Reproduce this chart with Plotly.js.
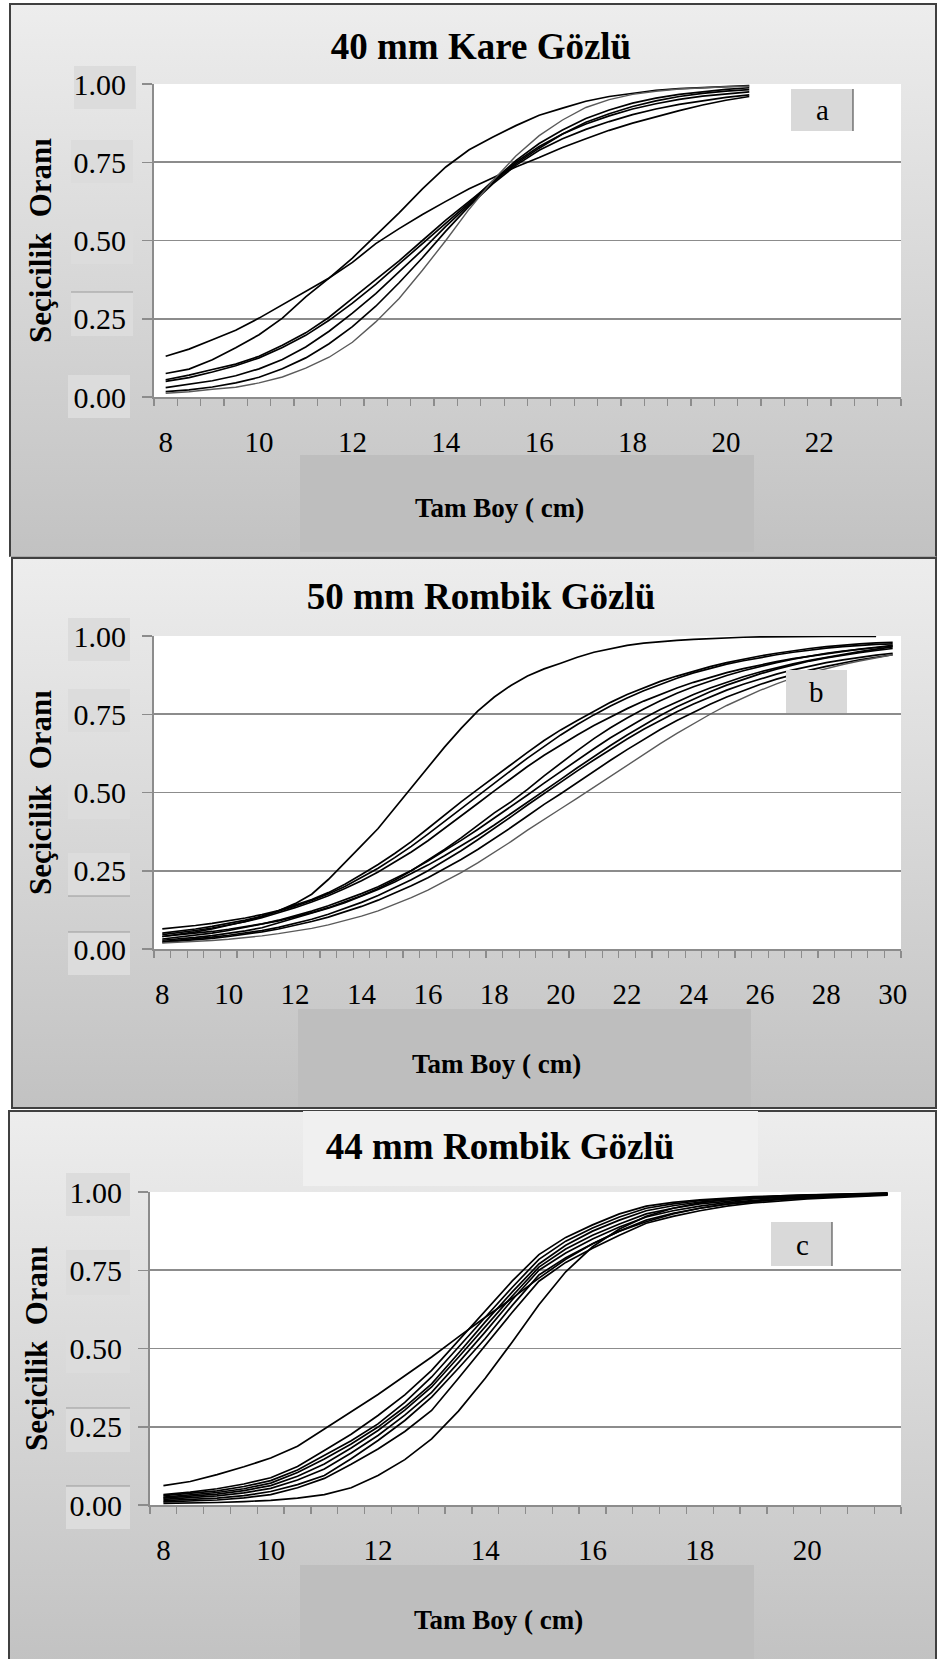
<!DOCTYPE html>
<html><head><meta charset="utf-8">
<script src="https://cdn.plot.ly/plotly-3.0.1.min.js"></script>
<style>
body{margin:0;background:#fff;width:947px;height:1659px;position:relative;overflow:hidden;}
.panel{position:absolute;box-sizing:border-box;border:2px solid #404040;background:linear-gradient(#ededed,#c2c2c2);}
.chart{position:absolute;}
</style></head><body>
<div class="panel" style="left:9px;top:3px;width:928px;height:554px;border-bottom:1px solid #a8a8a8"></div>
<div class="panel" style="left:11px;top:557px;width:926px;height:552px;"></div>
<div class="panel" style="left:8px;top:1110px;width:929px;height:553px;"></div>
<div class="chart" id="ca" style="left:9px;top:3px;"></div>
<div class="chart" id="cb" style="left:11px;top:557px;"></div>
<div class="chart" id="cc" style="left:8px;top:1110px;"></div>
<script>
// ---------------- DATA ----------------
const titleA = '40 mm Kare Gözlü';
const titleB = '50 mm Rombik Gözlü';
const titleC = '44 mm Rombik Gözlü';
const yTitle = 'Seçicilik\u00A0 Oranı';
const xTitle = 'Tam Boy ( cm)';
const yTicks = [0, 0.25, 0.5, 0.75, 1];

// Panel a: total length (cm)
const xA = [8,8.5,9,9.5,10,10.5,11,11.5,12,12.5,13,13.5,14,14.5,15,15.5,16,16.5,17,17.5,18,18.5,19,19.5,20,20.5];
const xTicksA = [8,10,12,14,16,18,20,22];
const a1 = [.130,.153,.183,.213,.252,.295,.337,.380,.430,.490,.538,.583,.625,.665,.700,.735,.765,.797,.825,.852,.875,.896,.915,.933,.948,.960];
const a2 = [.075,.089,.119,.157,.199,.252,.320,.380,.444,.515,.588,.665,.735,.790,.830,.867,.900,.923,.945,.960,.971,.980,.985,.989,.993,.995];
const a3 = [.055,.070,.088,.105,.130,.165,.205,.255,.315,.375,.435,.500,.565,.625,.685,.745,.795,.840,.878,.905,.928,.946,.960,.970,.977,.982];
const a4 = [.050,.062,.080,.100,.125,.158,.197,.245,.300,.360,.425,.490,.555,.620,.690,.755,.810,.853,.890,.917,.939,.955,.967,.976,.983,.988];
const a5 = [.030,.040,.052,.068,.090,.120,.160,.210,.268,.330,.400,.470,.545,.615,.685,.750,.800,.840,.872,.898,.920,.937,.951,.961,.969,.975];
const a6 = [.017,.023,.032,.045,.063,.090,.125,.170,.225,.290,.365,.445,.530,.610,.680,.740,.788,.825,.855,.880,.902,.920,.935,.947,.957,.965];
const a7 = [.012,.017,.025,.031,.045,.064,.092,.127,.175,.240,.315,.405,.500,.600,.690,.770,.835,.885,.925,.950,.967,.977,.984,.988,.991,.993];

// Panel b
const xB = [8,8.5,9,9.5,10,10.5,11,11.5,12,12.5,13,13.5,14,14.5,15,15.5,16,16.5,17,17.5,18,18.5,19,19.5,20,20.5,21,21.5,22,22.5,23,23.5,24,24.5,25,25.5,26,26.5,27,27.5,28,28.5,29,29.5,30];
const xTicksB = [8,10,12,14,16,18,20,22,24,26,28,30];
const b1 = [.040,.047,.055,.064,.075,.088,.103,.122,.145,.175,.222,.275,.330,.385,.450,.515,.578,.645,.705,.760,.805,.842,.872,.895,.913,.932,.948,.960,.970,.977,.982,.986,.989,.992,.994,.996,.997,.998,.998,.999,.999,.999,.999,.999,null];
const b2 = [.064,.069,.075,.082,.090,.099,.110,.123,.140,.158,.180,.207,.238,.270,.305,.343,.385,.428,.470,.510,.550,.590,.628,.666,.700,.730,.760,.788,.813,.835,.855,.872,.888,.902,.915,.926,.936,.945,.953,.960,.966,.971,.975,.978,.980];
const b3 = [.051,.057,.064,.072,.081,.092,.105,.120,.137,.155,.176,.200,.228,.258,.292,.328,.367,.408,.450,.490,.530,.570,.610,.648,.684,.717,.748,.776,.802,.825,.846,.865,.882,.897,.910,.921,.931,.940,.948,.955,.961,.966,.970,.973,.975];
const b4 = [.046,.052,.059,.067,.076,.087,.100,.115,.132,.150,.170,.193,.218,.246,.277,.310,.346,.385,.425,.465,.505,.545,.583,.619,.652,.684,.714,.742,.768,.792,.814,.834,.852,.868,.883,.896,.908,.918,.928,.936,.944,.951,.958,.964,.970];
const b5 = [.040,.045,.050,.056,.063,.071,.080,.090,.102,.116,.132,.150,.170,.193,.220,.250,.283,.318,.355,.395,.435,.470,.510,.553,.594,.634,.672,.707,.738,.767,.793,.817,.838,.857,.874,.889,.903,.915,.926,.936,.945,.952,.958,.964,.968];
const b6 = [.032,.038,.044,.051,.059,.069,.080,.092,.106,.121,.138,.157,.177,.199,.224,.251,.281,.313,.347,.382,.418,.455,.492,.530,.567,.604,.640,.675,.707,.737,.765,.790,.813,.834,.853,.870,.885,.899,.911,.922,.932,.941,.950,.958,.965];
const b7 = [.028,.032,.037,.043,.050,.058,.068,.083,.099,.114,.130,.148,.168,.190,.214,.240,.268,.298,.329,.362,.396,.432,.468,.505,.542,.579,.615,.650,.684,.716,.746,.774,.799,.822,.843,.862,.879,.894,.908,.920,.930,.939,.947,.954,.960];
const b8 = [.024,.028,.033,.038,.044,.051,.059,.069,.081,.095,.111,.129,.149,.171,.195,.221,.250,.281,.314,.349,.385,.422,.460,.497,.533,.569,.604,.638,.671,.702,.731,.758,.783,.806,.827,.846,.863,.878,.892,.904,.915,.924,.932,.939,.945];
const b9 = [.021,.025,.029,.034,.040,.047,.055,.064,.075,.088,.102,.118,.136,.156,.178,.202,.228,.256,.286,.318,.352,.388,.425,.462,.496,.532,.568,.603,.637,.670,.701,.730,.757,.782,.805,.826,.845,.862,.877,.891,.903,.914,.924,.932,.940];
const b10 = [.019,.021,.024,.027,.031,.036,.042,.049,.057,.066,.077,.090,.105,.122,.142,.164,.188,.215,.244,.275,.308,.343,.380,.415,.448,.482,.517,.553,.588,.622,.656,.689,.720,.750,.778,.803,.826,.847,.866,.882,.896,.909,.920,.930,.940];

// Panel c
const xC = [8,8.5,9,9.5,10,10.5,11,11.5,12,12.5,13,13.5,14,14.5,15,15.5,16,16.5,17,17.5,18,18.5,19,19.5,20,20.5,21,21.5];
const xTicksC = [8,10,12,14,16,18,20];
const c1 = [.062,.075,.097,.122,.150,.188,.243,.297,.353,.413,.473,.537,.600,.660,.725,.785,.835,.875,.905,.930,.948,.961,.970,.977,.982,.986,.989,.991];
const c2 = [.033,.041,.052,.067,.087,.123,.174,.226,.286,.352,.430,.525,.622,.715,.800,.855,.895,.930,.955,.967,.975,.981,.985,.988,.990,.993,.995,.997];
const c3 = [.030,.037,.045,.059,.078,.112,.158,.205,.259,.328,.409,.503,.600,.695,.785,.843,.885,.920,.948,.962,.972,.978,.983,.986,.989,.992,.994,.996];
const c4 = [.025,.032,.040,.052,.070,.104,.147,.195,.249,.313,.387,.485,.585,.680,.770,.830,.875,.910,.940,.956,.968,.975,.981,.985,.988,.991,.993,.995];
const c5 = [.022,.028,.035,.046,.062,.092,.131,.182,.238,.303,.377,.472,.569,.667,.760,.818,.862,.898,.930,.948,.962,.971,.978,.982,.986,.989,.992,.994];
const c6 = [.018,.023,.029,.039,.053,.080,.115,.166,.222,.287,.360,.455,.553,.655,.750,.805,.850,.888,.920,.940,.955,.966,.974,.980,.984,.987,.990,.993];
const c7 = [.014,.018,.022,.030,.043,.065,.094,.148,.206,.270,.345,.437,.532,.637,.735,.790,.835,.875,.910,.932,.948,.961,.970,.976,.981,.985,.988,.992];
const c8 = [.010,.013,.016,.023,.033,.055,.085,.130,.179,.235,.302,.405,.510,.615,.715,.775,.820,.862,.900,.922,.940,.955,.965,.972,.978,.982,.986,.990];
const c9 = [.005,.006,.008,.011,.015,.022,.033,.055,.094,.145,.211,.300,.405,.520,.640,.745,.825,.882,.922,.948,.965,.976,.983,.988,.991,.993,.994,.995];

// ---------------- RENDER ----------------
const FONT = 'Liberation Serif, Times New Roman, serif';
const AX = '#8c8c8c';

function P(p, x, y) { // page pixel -> paper coords
  return [(x - p.left - p.ml) / p.pw, 1 - (y - p.top - p.mt) / p.ph];
}
function rect(p, x0, y0, x1, y1, color) {
  const a = P(p, x0, y0), b = P(p, x1, y1);
  return {type:'rect', xref:'paper', yref:'paper', x0:a[0], y0:a[1], x1:b[0], y1:b[1],
          fillcolor:color, line:{width:0}, layer:'below'};
}
function hline(p, x0, x1, y, color, w) {
  const a = P(p, x0, y), b = P(p, x1, y);
  return {type:'line', xref:'paper', yref:'paper', x0:a[0], y0:a[1], x1:b[0], y1:b[1], line:{color:color, width:w}, layer:'below'};
}
function note(p, x, y, text, size, bold) {
  const a = P(p, x, y);
  return {xref:'paper', yref:'paper', x:a[0], y:a[1], text: bold ? '<b>'+text+'</b>' : text, showarrow:false,
          xanchor:'center', yanchor:'middle', font:{family:FONT, size:size, color:'#000'}};
}
function traces(x, series, grayIdx) {
  return series.map((s, i) => ({
    x: x, y: s, type:'scatter', mode:'lines', hoverinfo:'skip', connectgaps:false,
    line: i === grayIdx ? {color:'#5a5a5a', width:1.4} : {color:'#000', width:1.7}
  }));
}
function minorVals(lo, hi) {
  const v = [];
  for (let t = lo; t <= hi + 1e-9; t += 0.5) v.push(t);
  return v;
}
function build(p) {
  const shapes = [];
  p.labelBoxes.forEach(b => shapes.push(rect(p, b[0], b[1], b[2], b[3], '#dcdcdc')));
  p.labelLines.forEach(l => shapes.push(hline(p, l[0], l[1], l[2], '#9a9a9a', 1)));
  shapes.push(rect(p, p.xBox[0], p.xBox[1], p.xBox[2], p.xBox[3], '#bebebe'));
  if (p.titleBox) shapes.push(rect(p, p.titleBox[0], p.titleBox[1], p.titleBox[2], p.titleBox[3], '#f0f0f0'));
  const lb = p.letterBox;
  const la = P(p, lb[0], lb[1]), lb2 = P(p, lb[2], lb[3]);
  shapes.push({type:'rect', xref:'paper', yref:'paper', x0:la[0], y0:la[1], x1:lb2[0], y1:lb2[1],
               fillcolor:'#d9d9d9', line:{width:0}, layer:'above'});
  if (p.letterLine) {
    const v0 = P(p, lb[2], lb[1]), v1 = P(p, lb[2], lb[3]);
    shapes.push({type:'line', xref:'paper', yref:'paper', x0:v0[0], y0:v0[1], x1:v1[0], y1:v1[1],
                 line:{color:'#555', width:1.2}, layer:'above'});
  }
  const anns = [
    note(p, p.xTitlePos[0], p.xTitlePos[1], xTitle, 27, true),
    note(p, p.letterPos[0], p.letterPos[1], p.letter, 29, false)
  ];
  return {
    width: p.W, height: p.H,
    margin: {l:p.ml, t:p.mt, r:p.W - p.ml - p.pw, b:p.H - p.mt - p.ph, pad:0},
    paper_bgcolor:'rgba(0,0,0,0)', plot_bgcolor:'#ffffff',
    showlegend:false,
    font:{family:FONT, color:'#000'},
    title: {text:'<b>'+p.title+'</b>', font:{family:FONT, size:37, color:'#000'},
            xref:'container', yref:'container', x:(p.titleX - p.left)/p.W, y:1 - (p.titleY - p.top)/p.H,
            xanchor:'center', yanchor:'middle'},
    xaxis: {
      range: p.xrange, tickmode:'array', tickvals:p.xticks, ticktext:p.xticks.map(String),
      ticks:'', showgrid:false, zeroline:false, showline:true, linecolor:AX, linewidth:2,
      tickfont:{family:FONT, size:29, color:'#000'}, ticklabelstandoff: 18,
      minor:{tickmode:'array', tickvals:minorVals(p.xrange[0], p.xrange[1]), ticks:'outside', ticklen:7, tickwidth:1.3, tickcolor:AX, showgrid:false},
      fixedrange:true
    },
    yaxis: {
      range:[0, 1], tickmode:'array', tickvals:yTicks, ticktext:yTicks.map(v => v.toFixed(2)),
      ticks:'outside', ticklen:10, tickwidth:1.5, tickcolor:AX,
      showgrid:true, gridcolor:AX, gridwidth:1.6, zeroline:false, showline:true, linecolor:AX, linewidth:2,
      tickfont:{family:FONT, size:30, color:'#000'}, ticklabelstandoff: 10,
      title:{text:'<b>'+yTitle+'</b>', font:{family:FONT, size:31, color:'#000'}, standoff:13},
      fixedrange:true
    },
    shapes: shapes, annotations: anns
  };
}

const pa = {left:9, top:3, W:928, H:554, ml:145, mt:81, pw:747, ph:313,
  xrange:[7.75, 23.75], xticks:xTicksA, title:titleA, titleX:481, titleY:46,
  labelBoxes:[[74,66,136,109],[71,140,133,183],[71,221,133,264],[71,292,133,336],[68,375,130,418]],
  labelLines:[[71,133,292]],
  xBox:[300,455,754,552], xTitlePos:[499,508],
  letterBox:[791,89,853,131], letterLine:true, letterPos:[822,110], letter:'a'};
const pb = {left:11, top:557, W:926, H:552, ml:143, mt:79, pw:747, ph:313,
  xrange:[7.75, 30.25], xticks:xTicksB, title:titleB, titleX:481, titleY:596,
  labelBoxes:[[68,618,130,661],[68,689,130,732],[68,776,130,819],[68,853,130,896],[68,932,130,975]],
  labelLines:[[68,130,896],[68,130,932]],
  xBox:[298,1009,751,1107], xTitlePos:[496,1064],
  letterBox:[786,670,847,713], letterLine:false, letterPos:[816,692], letter:'b'};
const pc = {left:8, top:1110, W:929, H:553, ml:142, mt:82, pw:751, ph:313,
  xrange:[7.75, 21.75], xticks:xTicksC, title:titleC, titleX:500, titleY:1146,
  labelBoxes:[[66,1173,130,1216],[66,1250,130,1295],[66,1330,130,1373],[66,1408,130,1452],[66,1486,130,1529]],
  labelLines:[[66,130,1408],[66,130,1486]],
  xBox:[300,1565,754,1662], xTitlePos:[498,1620], titleBox:[303,1111,758,1186],
  letterBox:[771,1222,832,1266], letterLine:true, letterPos:[802,1245], letter:'c'};

const cfg = {staticPlot:true, displayModeBar:false};
Plotly.newPlot('ca', traces(xA, [a1,a2,a3,a4,a5,a6,a7], 6), build(pa), cfg);
Plotly.newPlot('cb', traces(xB, [b1,b2,b3,b4,b5,b6,b7,b8,b9,b10], 9), build(pb), cfg);
Plotly.newPlot('cc', traces(xC, [c1,c2,c3,c4,c5,c6,c7,c8,c9], -1), build(pc), cfg);
</script>
</body></html>
